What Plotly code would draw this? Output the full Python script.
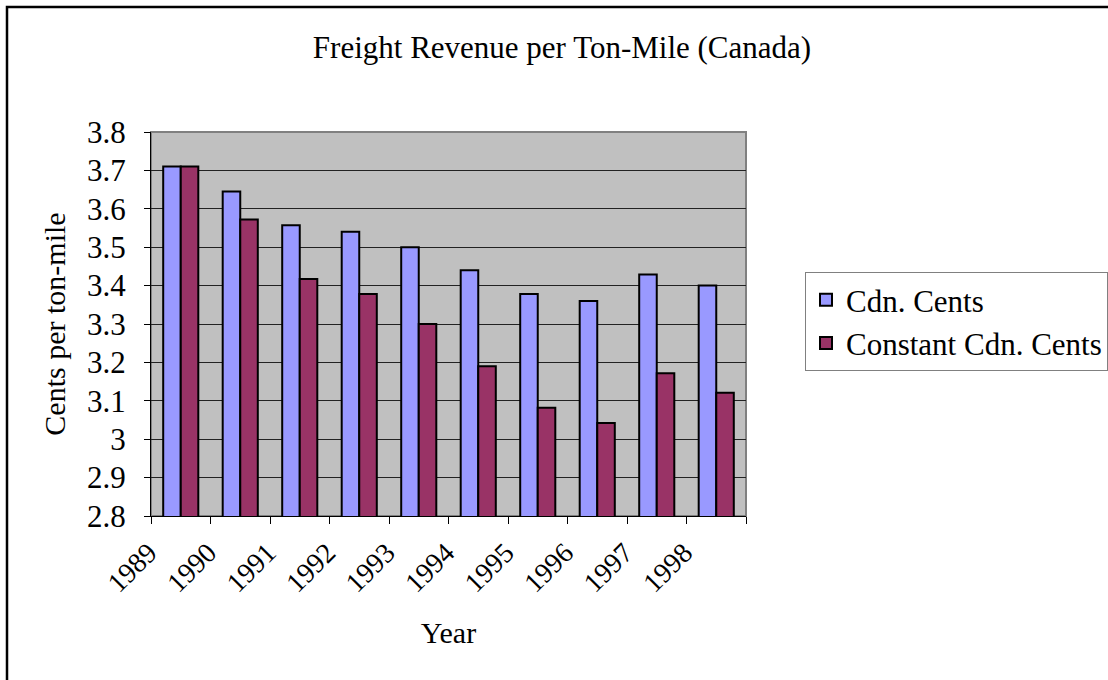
import plotly.graph_objects as go

years = ["1989", "1990", "1991", "1992", "1993", "1994", "1995", "1996", "1997", "1998"]
cdn_cents = [3.71, 3.645, 3.557, 3.54, 3.50, 3.44, 3.378, 3.36, 3.429, 3.40]
constant_cdn_cents = [3.71, 3.572, 3.417, 3.378, 3.30, 3.19, 3.082, 3.042, 3.172, 3.121]
y_ticks = [2.8, 2.9, 3.0, 3.1, 3.2, 3.3, 3.4, 3.5, 3.6, 3.7, 3.8]
y_tick_text = ["2.8", "2.9", "3", "3.1", "3.2", "3.3", "3.4", "3.5", "3.6", "3.7", "3.8"]

W, H = 1108, 680
L, R, T, B = 151, 746, 132, 516
FONT = "Liberation Serif, Times New Roman, serif"


def px_x(p):
    return (p - L) / (R - L)


def px_y(p):
    return (B - p) / (B - T)


fig = go.Figure()
fig.add_trace(go.Bar(
    x=years, y=cdn_cents, name="Cdn. Cents",
    marker=dict(color="#9999FF", line=dict(color="black", width=2)),
))
fig.add_trace(go.Bar(
    x=years, y=constant_cdn_cents, name="Constant Cdn. Cents",
    marker=dict(color="#993366", line=dict(color="black", width=2)),
))

fig.update_layout(
    width=W, height=H,
    margin=dict(l=L, r=W - R, t=T, b=H - B, pad=0, autoexpand=False),
    paper_bgcolor="white",
    plot_bgcolor="#C0C0C0",
    barmode="group",
    bargap=0.41,
    bargroupgap=0,
    font=dict(family=FONT, color="black", size=30),
    title=dict(
        text="Freight Revenue per Ton-Mile (Canada)",
        font=dict(family=FONT, size=31, color="black"),
        x=562 / W, xanchor="center",
        y=1 - 47 / H, yanchor="middle",
    ),
    legend=dict(
        x=px_x(805), y=px_y(272), xanchor="left", yanchor="top",
        bgcolor="white", bordercolor="#808080", borderwidth=1,
        font=dict(family=FONT, size=31, color="black"),
        tracegroupgap=0,
        itemwidth=30,
    ),
    xaxis=dict(
        type="category",
        automargin=False,
        tickangle=-45,
        ticks="outside", ticklen=7, tickcolor="black", tickwidth=1,
        tickson="boundaries",
        ticklabelstandoff=8,
        ticklabelshift=-32,
        showline=True, linecolor="black", linewidth=1,
        showgrid=False,
        tickfont=dict(family=FONT, size=28),
        title=dict(text="Year", font=dict(family=FONT, size=30), standoff=24),
    ),
    yaxis=dict(
        automargin=False,
        range=[2.8, 3.8],
        tickvals=y_ticks, ticktext=y_tick_text,
        ticks="outside", ticklen=6, tickcolor="black", tickwidth=1,
        ticklabelstandoff=12,
        showline=True, linecolor="black", linewidth=1,
        showgrid=True, gridcolor="#222222", gridwidth=1,
        zeroline=False,
        tickfont=dict(family=FONT, size=31),
        title=dict(text="Cents per ton-mile", font=dict(family=FONT, size=30), standoff=12),
    ),
    shapes=[
        # gray frame around the plotting area
        dict(type="rect", xref="paper", yref="paper", x0=0, x1=1, y0=0, y1=1,
             line=dict(color="#808080", width=2), layer="below"),
        # outer chart border
        dict(type="rect", xref="paper", yref="paper",
             x0=px_x(7), x1=px_x(1130), y0=px_y(7), y1=px_y(700),
             line=dict(color="black", width=2.5)),
    ],
)

fig.write_html("out.html")
